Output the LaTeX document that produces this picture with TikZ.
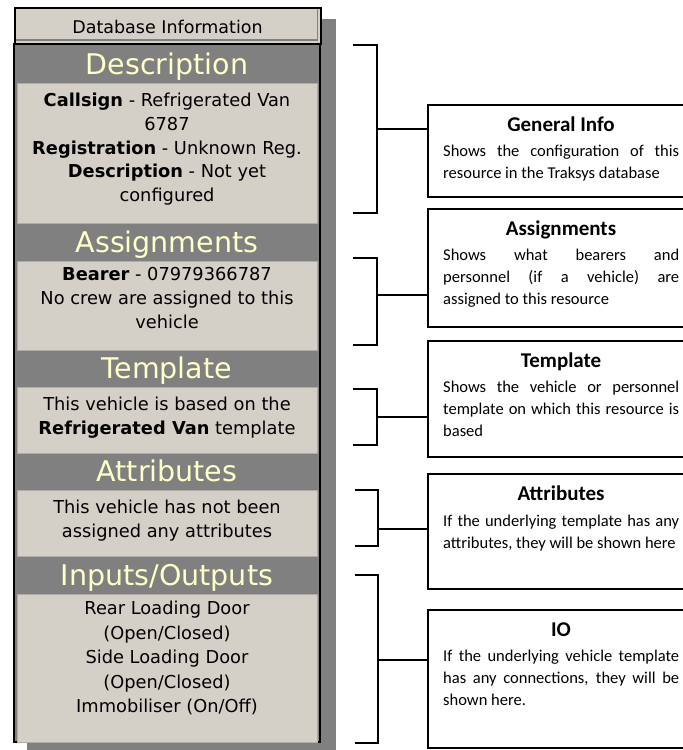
\documentclass[tikz,border=0pt]{standalone}
\usepackage{fontspec}
\setmainfont{DejaVu Sans}
\newfontfamily\notefont{Carlito}
\definecolor{winface}{RGB}{212,208,200}
\definecolor{wingray}{RGB}{128,128,128}
\definecolor{winedge}{RGB}{176,172,166}
\definecolor{capyellow}{RGB}{255,255,200}

\begin{document}
\begin{tikzpicture}[x=1pt,y=-1pt,
  panelhead/.style={anchor=base, inner sep=0pt, text=capyellow,
    font=\fontsize{28.5}{30}\selectfont},
  pline/.style={anchor=base, inner sep=0pt, font=\fontsize{17.8}{20}\selectfont},
  litebox/.style={anchor=north west, fill=winface, draw=winedge, line width=0.8pt,
    inner sep=0pt, outer sep=0pt, minimum width=300pt},
  infobox/.style={anchor=north west, draw=black, line width=2pt, inner sep=0pt,
    outer sep=0pt, minimum width=290pt},
  notetitle/.style={anchor=base, inner sep=0pt,
    font=\notefont\bfseries\fontsize{21}{24}\selectfont},
  noteline/.style={anchor=base west, inner sep=0pt,
    font=\notefont\fontsize{16.5}{22}\selectfont},
  bracket/.style={line width=1.6pt},
  link/.style={line width=1.6pt},
]
\useasboundingbox (0,0) rectangle (683,750);
\clip (0,0) rectangle (683,750);

% ---------- resource panel ----------
% drop shadow
\fill[wingray] (27,19) rectangle (336,755);
% panel body with black frame
\fill[wingray] (13,43) rectangle (321,743);
\draw[line width=2pt] (14,43) -- (14,742) -- (320,742) -- (320,43);

% title button
\node[anchor=north west, draw=black, fill=winface, line width=2pt, inner sep=0pt,
  minimum width=306pt, minimum height=36pt] (dbinfo) at (14,7) {};
\draw[wingray, line width=1.5pt] (16,40) -- (317.5,40) -- (317.5,9);
\node[anchor=base, inner sep=0pt, font=\fontsize{17.5}{20}\selectfont] (dbtext)
  at (167.5,33) {Database Information};

% section boxes
\node[litebox, minimum height=140pt] (descbox) at (17,83) {};
\node[litebox, minimum height=89pt]  (assgbox) at (17,261) {};
\node[litebox, minimum height=66pt]  (tmplbox) at (17,387) {};
\node[litebox, minimum height=66pt]  (attrbox) at (17,490) {};
\node[litebox, minimum height=148pt] (iobox)   at (17,594) {};

% section headings
\node[panelhead] (hdesc) at (167,74.5)  {Description};
\node[panelhead] (hassg) at (167,252.5) {Assignments};
\node[panelhead] (htmpl) at (167,378.5) {Template};
\node[panelhead] (hattr) at (167,481.5) {Attributes};
\node[panelhead] (hio)   at (167,585.5) {Inputs/Outputs};

% Description
\node[pline] (d1) at (167,106.5) {\textbf{Callsign} - Refrigerated Van};
\node[pline] (d2) at (167,130.2) {6787};
\node[pline] (d3) at (167,154)   {\textbf{Registration} - Unknown Reg.};
\node[pline] (d4) at (167,177.7) {\textbf{Description} - Not yet};
\node[pline] (d5) at (167,201.5) {configured};
% Assignments
\node[pline] (a1) at (167,280) {\textbf{Bearer} - 07979366787};
\node[pline] (a2) at (167,304) {No crew are assigned to this};
\node[pline] (a3) at (167,328) {vehicle};
% Template
\node[pline] (t1) at (167,410)   {This vehicle is based on the};
\node[pline] (t2) at (167,434.5) {\textbf{Refrigerated Van} template};
% Attributes
\node[pline] (r1) at (167,513)   {This vehicle has not been};
\node[pline] (r2) at (167,537.5) {assigned any attributes};
% Inputs/Outputs
\node[pline] (o1) at (167,614.5) {Rear Loading Door};
\node[pline] (o2) at (167,639)   {(Open/Closed)};
\node[pline] (o3) at (167,663.5) {Side Loading Door};
\node[pline] (o4) at (167,688)   {(Open/Closed)};
\node[pline] (o5) at (167,712.5) {Immobiliser (On/Off)};

% ---------- explanation boxes ----------
\node[infobox, minimum height=92pt]  (gen) at (428,105) {};
\node[infobox, minimum height=118pt] (asg) at (428,209) {};
\node[infobox, minimum height=116pt] (tpl) at (428,341) {};
\node[infobox, minimum height=115pt] (att) at (428,474) {};
\node[infobox, minimum height=138pt] (io)  at (428,610) {};

\node[notetitle] (gent) at (561,131) {General Info};
\node[noteline] (gen1) at (443,156) {\makebox[236pt][s]{Shows the configuration of this}};
\node[noteline] (gen2) at (443,178) {resource in the Traksys database};

\node[notetitle] (asgt) at (561,235) {Assignments};
\node[noteline] (asg1) at (443,260) {\makebox[236pt][s]{Shows what bearers and}};
\node[noteline] (asg2) at (443,282) {\makebox[236pt][s]{personnel (if a vehicle) are}};
\node[noteline] (asg3) at (443,304) {assigned to this resource};

\node[notetitle] (tplt) at (561,367) {Template};
\node[noteline] (tpl1) at (443,392) {\makebox[236pt][s]{Shows the vehicle or personnel}};
\node[noteline] (tpl2) at (443,414) {\makebox[236pt][s]{template on which this resource is}};
\node[noteline] (tpl3) at (443,436) {based};

\node[notetitle] (attt) at (561,500) {Attributes};
\node[noteline] (att1) at (443,526) {\makebox[236pt][s]{If the underlying template has any}};
\node[noteline] (att2) at (443,548) {attributes, they will be shown here};

\node[notetitle] (iot) at (561,636) {IO};
\node[noteline] (io1) at (443,661) {\makebox[236pt][s]{If the underlying vehicle template}};
\node[noteline] (io2) at (443,683) {\makebox[236pt][s]{has any connections, they will be}};
\node[noteline] (io3) at (443,705) {shown here.};

% ---------- brackets and links ----------
\coordinate (k1) at (377,129);
\coordinate (k2) at (377,295);
\coordinate (k3) at (377,417);
\coordinate (k4) at (378,529);
\coordinate (k5) at (378,660);

\draw[bracket] (353,45)  -- (377,45)  -- (377,213) -- (353,213);
\draw[bracket] (353,258) -- (377,258) -- (377,345) -- (353,345);
\draw[bracket] (353,389) -- (377,389) -- (377,445) -- (353,445);
\draw[bracket] (355,490) -- (378,490) -- (378,546) -- (355,546);
\draw[bracket] (355,575) -- (378,575) -- (378,743) -- (355,743);

\draw[link] (k1) -- (k1 -| gen.west);
\draw[link] (k2) -- (k2 -| asg.west);
\draw[link] (k3) -- (k3 -| tpl.west);
\draw[link] (k4) -- (k4 -| att.west);
\draw[link] (k5) -- (k5 -| io.west);
\end{tikzpicture}
\end{document}
